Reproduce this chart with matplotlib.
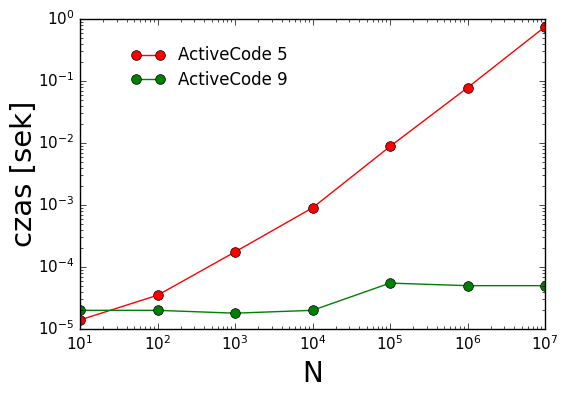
import matplotlib
matplotlib.use('Agg')
import matplotlib.pyplot as plt

# --- data ---
N = [1e1, 1e2, 1e3, 1e4, 1e5, 1e6, 1e7]
ac5 = [1.4e-5, 3.5e-5, 1.75e-4, 9.0e-4, 8.8e-3, 7.8e-2, 0.75]
ac9 = [2.0e-5, 2.0e-5, 1.8e-5, 2.0e-5, 5.5e-5, 5.0e-5, 5.0e-5]

plt.style.use('classic')
plt.rcParams['font.family'] = 'DejaVu Sans'

fig = plt.figure(figsize=(5.67, 3.99), dpi=100, facecolor='white')
ax = fig.add_axes([80 / 567, 70 / 399, 465 / 567, 310 / 399])

ax.plot(N, ac5, '-o', color='red', markeredgecolor='black', markersize=7,
        label='ActiveCode 5')
ax.plot(N, ac9, '-o', color='green', markeredgecolor='black', markersize=7,
        label='ActiveCode 9')

ax.set_xscale('log')
ax.set_yscale('log')
ax.set_xlim(1e1, 1e7)
ax.set_ylim(1e-5, 1)
ax.tick_params(labelsize=11)
ax.set_xlabel('N', fontsize=20)
ax.set_ylabel('czas [sek]', fontsize=21, labelpad=0)
ax.legend(loc='upper left', frameon=False, numpoints=2, fontsize=12,
          labelspacing=0.4, bbox_to_anchor=(0.078, 0.96))

fig.savefig('out.png', dpi=100, facecolor='white')
